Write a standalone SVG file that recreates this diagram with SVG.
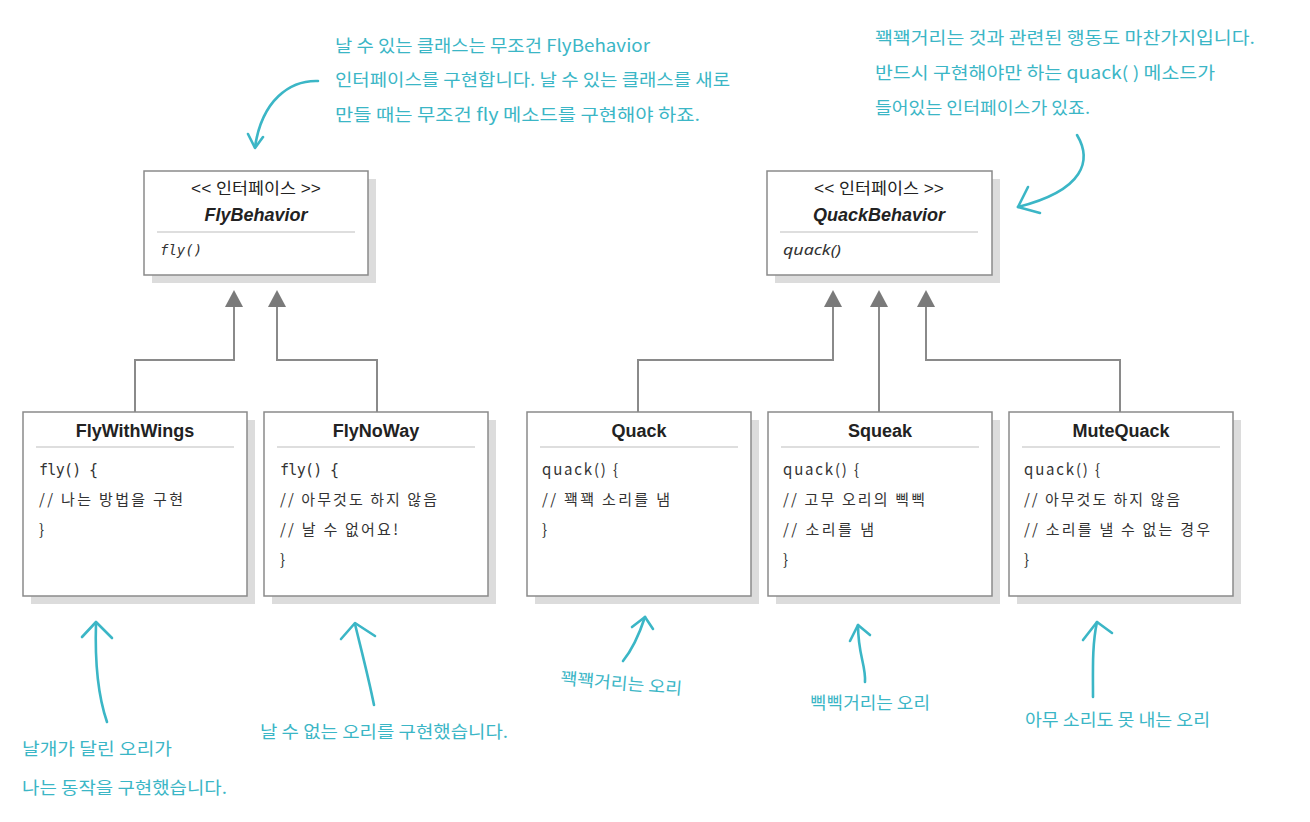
<svg xmlns="http://www.w3.org/2000/svg" width="1310" height="822" viewBox="0 0 1310 822">
<defs>
<style>
.shadow{fill:#dcdcdc}
.box{fill:#fff;stroke:#8a8a8a;stroke-width:1.5}
.sep{stroke:#bdbdbd;stroke-width:1}
.stereo{font-family:"Liberation Sans","Noto Sans CJK KR",sans-serif;font-size:16px;fill:#222;text-anchor:middle}
.iname{font-family:"Liberation Sans",sans-serif;font-size:18px;font-weight:bold;font-style:italic;fill:#222;text-anchor:middle}
.cname{font-family:"Liberation Sans",sans-serif;font-size:18px;font-weight:bold;fill:#222;text-anchor:middle}
.meth{font-family:"DejaVu Sans Mono",monospace;font-size:14px;font-style:italic;fill:#333}
.code{font-family:"Noto Sans CJK KR","DejaVu Sans",sans-serif;font-size:15px;fill:#333}
.mono{font-family:"DejaVu Sans Mono",monospace;font-size:15px;fill:#333}
.conn{fill:none;stroke:#8a8a8a;stroke-width:2}
.tri{fill:#7a7a7a}
.note{font-family:"Noto Sans CJK KR",sans-serif;font-size:17px;fill:#3bb6c6}
.narr{fill:none;stroke:#3bb6c6;stroke-width:2.6;stroke-linecap:round;stroke-linejoin:round}
</style>
</defs>
<rect width="1310" height="822" fill="#fff"/>

<g id="connectors">
<path class="conn" d="M234 305 V360 H135 V412"/>
<path class="conn" d="M277 305 V360 H377 V412"/>
<path class="conn" d="M833 305 V360 H638 V412"/>
<path class="conn" d="M879 305 V412"/>
<path class="conn" d="M926 305 V360 H1120 V412"/>
<polygon class="tri" points="234,290 225,307 243,307"/>
<polygon class="tri" points="277,290 268,307 286,307"/>
<polygon class="tri" points="833,290 824,307 842,307"/>
<polygon class="tri" points="879,290 870,307 888,307"/>
<polygon class="tri" points="926,290 917,307 935,307"/>
</g>

<g id="FlyBehavior">
<rect class="shadow" x="152" y="179" width="224" height="104"/>
<rect class="box" x="144" y="171" width="224" height="104"/>
<text class="stereo" x="256" y="194" textLength="130" lengthAdjust="spacingAndGlyphs">&lt;&lt; 인터페이스 &gt;&gt;</text>
<text class="iname" x="256" y="221">FlyBehavior</text>
<line class="sep" x1="157" y1="232" x2="355" y2="232"/>
<text class="meth" x="160" y="255">fly()</text>
</g>

<g id="QuackBehavior">
<rect class="shadow" x="775" y="179" width="225" height="104"/>
<rect class="box" x="767" y="171" width="225" height="104"/>
<text class="stereo" x="879" y="194" textLength="130" lengthAdjust="spacingAndGlyphs">&lt;&lt; 인터페이스 &gt;&gt;</text>
<text class="iname" x="879" y="221">QuackBehavior</text>
<line class="sep" x1="780" y1="232" x2="978" y2="232"/>
<text x="783" y="255" style="font-family:'Noto Sans','DejaVu Sans',sans-serif;font-size:15px;font-style:italic;fill:#333" textLength="58" lengthAdjust="spacingAndGlyphs">quack()</text>
</g>

<g id="FlyWithWings">
<rect class="shadow" x="31" y="420" width="224" height="184"/>
<rect class="box" x="23" y="412" width="224" height="184"/>
<text class="cname" x="135" y="437">FlyWithWings</text>
<line class="sep" x1="36" y1="447" x2="234" y2="447"/>
<text class="mono" x="39" y="475" textLength="59" lengthAdjust="spacing">fly() {</text>
<text class="code" x="39" y="505" textLength="144" lengthAdjust="spacing">// 나는 방법을 구현</text>
<text class="code" x="39" y="535">}</text>
</g>

<g id="FlyNoWay">
<rect class="shadow" x="272" y="420" width="224" height="184"/>
<rect class="box" x="264" y="412" width="224" height="184"/>
<text class="cname" x="376" y="437">FlyNoWay</text>
<line class="sep" x1="277" y1="447" x2="475" y2="447"/>
<text class="mono" x="280" y="475" textLength="59" lengthAdjust="spacing">fly() {</text>
<text class="code" x="280" y="505" textLength="157" lengthAdjust="spacing">// 아무것도 하지 않음</text>
<text class="code" x="280" y="535" textLength="118" lengthAdjust="spacing">// 날 수 없어요!</text>
<text class="code" x="280" y="565">}</text>
</g>

<g id="Quack">
<rect class="shadow" x="535" y="420" width="224" height="184"/>
<rect class="box" x="527" y="412" width="224" height="184"/>
<text class="cname" x="639" y="437">Quack</text>
<line class="sep" x1="540" y1="447" x2="738" y2="447"/>
<text class="code" x="542" y="475" textLength="76" lengthAdjust="spacing">quack() {</text>
<text class="code" x="542" y="505" textLength="128" lengthAdjust="spacing">// 꽥꽥 소리를 냄</text>
<text class="code" x="542" y="535">}</text>
</g>

<g id="Squeak">
<rect class="shadow" x="776" y="420" width="224" height="184"/>
<rect class="box" x="768" y="412" width="224" height="184"/>
<text class="cname" x="880" y="437">Squeak</text>
<line class="sep" x1="781" y1="447" x2="979" y2="447"/>
<text class="code" x="783" y="475" textLength="76" lengthAdjust="spacing">quack() {</text>
<text class="code" x="783" y="505" textLength="142" lengthAdjust="spacing">// 고무 오리의 삑삑</text>
<text class="code" x="783" y="535" textLength="91" lengthAdjust="spacing">// 소리를 냄</text>
<text class="code" x="783" y="565">}</text>
</g>

<g id="MuteQuack">
<rect class="shadow" x="1017" y="420" width="224" height="184"/>
<rect class="box" x="1009" y="412" width="224" height="184"/>
<text class="cname" x="1121" y="437">MuteQuack</text>
<line class="sep" x1="1022" y1="447" x2="1220" y2="447"/>
<text class="code" x="1024" y="475" textLength="76" lengthAdjust="spacing">quack() {</text>
<text class="code" x="1024" y="505" textLength="156" lengthAdjust="spacing">// 아무것도 하지 않음</text>
<text class="code" x="1024" y="535" textLength="186" lengthAdjust="spacing">// 소리를 낼 수 없는 경우</text>
<text class="code" x="1024" y="565">}</text>
</g>

<g id="note-fly">
<text class="note" x="335" y="52" textLength="315" lengthAdjust="spacingAndGlyphs">날 수 있는 클래스는 무조건 FlyBehavior</text>
<text class="note" x="335" y="86" textLength="395" lengthAdjust="spacingAndGlyphs">인터페이스를 구현합니다. 날 수 있는 클래스를 새로</text>
<text class="note" x="335" y="121" textLength="365" lengthAdjust="spacingAndGlyphs">만들 때는 무조건 fly 메소드를 구현해야 하죠.</text>
<path class="narr" d="M318 81 C290 80 262 100 255 147"/>
<path class="narr" d="M248 134 L255 148 L263 137"/>
</g>

<g id="note-quack">
<text class="note" x="875" y="44" textLength="380" lengthAdjust="spacingAndGlyphs">꽥꽥거리는 것과 관련된 행동도 마찬가지입니다.</text>
<text class="note" x="875" y="79" textLength="340" lengthAdjust="spacingAndGlyphs">반드시 구현해야만 하는 quack( ) 메소드가</text>
<text class="note" x="875" y="114" textLength="215" lengthAdjust="spacingAndGlyphs">들어있는 인터페이스가 있죠.</text>
<path class="narr" d="M1077 135 C1092 160 1085 190 1018 207"/>
<path class="narr" d="M1028 187 L1018 207 L1040 213"/>
</g>

<g id="note-flywithwings">
<path class="narr" d="M107 722 C96 690 95 655 96 623"/>
<path class="narr" d="M82 637 L96 622 L112 638"/>
<text class="note" x="22" y="755" textLength="150" lengthAdjust="spacingAndGlyphs">날개가 달린 오리가</text>
<text class="note" x="22" y="794" textLength="205" lengthAdjust="spacingAndGlyphs">나는 동작을 구현했습니다.</text>
</g>

<g id="note-flynoway">
<path class="narr" d="M374 705 C368 675 360 645 355 624"/>
<path class="narr" d="M341 639 L355 623 L375 636"/>
<text class="note" x="260" y="738" textLength="248" lengthAdjust="spacingAndGlyphs">날 수 없는 오리를 구현했습니다.</text>
</g>

<g id="note-quack-duck">
<path class="narr" d="M623 661 C632 650 640 632 645 617"/>
<path class="narr" d="M632 627 L645 617 L653 629"/>
<text class="note" x="560" y="684" textLength="122" lengthAdjust="spacingAndGlyphs" transform="rotate(5 560 684)">꽥꽥거리는 오리</text>
</g>

<g id="note-squeak-duck">
<path class="narr" d="M865 682 C866 665 858 655 858 625"/>
<path class="narr" d="M850 641 L858 625 L870 635"/>
<text class="note" x="810" y="709" textLength="120" lengthAdjust="spacingAndGlyphs">삑삑거리는 오리</text>
</g>

<g id="note-mute-duck">
<path class="narr" d="M1093 697 C1093 670 1092 645 1097 622"/>
<path class="narr" d="M1083 640 L1097 622 L1112 633"/>
<text class="note" x="1025" y="726" textLength="185" lengthAdjust="spacingAndGlyphs">아무 소리도 못 내는 오리</text>
</g>
</svg>
